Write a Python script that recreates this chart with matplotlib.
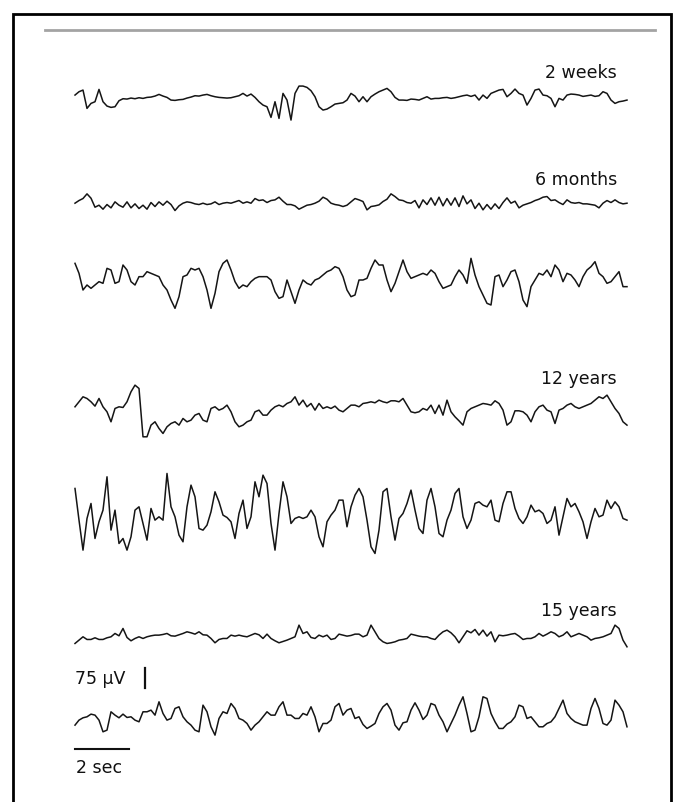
import matplotlib.pyplot as plt
import numpy as np
from matplotlib.lines import Line2D
from matplotlib.patches import Rectangle

# EEG traces, one sample every 4/27 s.
# amplitudes in digitiser units, 1 unit = 1.25 uV
SAMPLE_STEP_S = 4 / 27
UV_PER_UNIT = 1.25

age_labels = ["2 weeks", "6 months", "12 years", "15 years"]
labelled_traces = [0, 1, 3, 5]

trace_2wk = [10, 20, 25, -30, -15, -10, 27, -10, -23, -27,
             -25, -7, -1, -2, 1, -1, 2, 0, 3, 4,
             7, 12, 7, 3, -5, -6, -4, -3, 1, 4,
             8, 7, 10, 12, 8, 5, 3, 2, 1, 2,
             5, 8, 15, 7, 13, 3, -10, -20, -25, -57,
             -10, -60, 15, -5, -65, 15, 37, 37, 33, 23,
             5, -25, -35, -32, -25, -17, -15, -13, -5, 15,
             7, -10,
             5, -10, 5, 13, 20, 25, 30, 20, 3, -5,
             -5, -6, -2, -3, -5, 0, 5, -2, 0, 0,
             2, 3, 0, 2, 5, 8, 10, 6, 10, -5,
             10, 0, 15, 20, 25, 27, 5, 15, 28, 15,
             10, -20, 0, 25, 28, 10, 8, 0, -25, 0,
             -5, 10, 13, 12, 10, 6, 8, 10, 6, 8,
             20, 15, -5, -15, -10, -8, -5]

trace_6mo_a = [0, 8, 14, 28, 15, -12, -6, -18, -4, -14,
               4, -6, -12, 4, -14, -2, -16, -6, -18, 2,
               -10, 4, -6, 6, -4, -22, -8, 0, 4, 2,
               -2, -4, 0, -4, -2, 4, -4, 0, 2, 0,
               4, 8, 0, 4, 0, 14, 8, 10, 2, 8,
               10, 18, 6, -4, -4, -8, -18, -12, -6, -4,
               0, 6, 18, 12, 0, -4, -6, -10, -6, 4,
               14, 10,
               5, -20, -10, -8, -5, 5, 12, 28, 20, 10,
               8, 2, 0, 8, -14, 10, -4, 16, -6, 18,
               -8, 14, -6, 16, -10, 22, -2, 10, -16, 0,
               -20, -4, -18, -2, -16, 2, 16, 0, 6, -14,
               -6, -2, 2, 8, 12, 18, 20, 8, 10, 2,
               -4, 10, 2, 0, 2, -2, -2, -4, -6, -14,
               0, 8, 2, 10, 2, -2, 0]

trace_6mo_b = [50, 20, -30, -15, -25, -15, -5, -10, 35, 30,
               -10, -5, 45, 30, -5, -15, 10, 10, 25, 20,
               15, 10, -15, -30, -60, -85, -50, 10, 15, 35,
               30, 35, 10, -30, -85, -40, 25, 50, 60, 30,
               -5, -25, -15, -20, -5, 5, 10, 10, 10, 0,
               -35, -55, -50, 0, -35, -70, -30, 0, -10, -15,
               0, 5, 15, 25, 30, 40, 35, 10, -30, -50,
               -45, 0,
               0, 5, 35, 60, 45, 45, 0, -35, -10, 25,
               60, 25, 5, 10, 15, 20, 15, 30, 20, -5,
               -25, -20, -15, 10, 30, 15, -10, 65, 15, -20,
               -45, -70, -75, 10, 15, -20, 0, 25, 30, -5,
               -60, -80, -20, 0, 20, 15, 30, 10, 45, 30,
               -5, 20, 15, 0, -20, 10, 30, 40, 55, 20,
               10, -10, -5, 10, 25, -20, -20]

trace_12yr_a = [10, 25, 40, 35, 25, 12, 35, 10, -5, -35,
                5, 10, 8, 25, 55, 75, 65, -80, -80, -45,
                -35, -55, -70, -50, -40, -35, -45, -25, -35, -30,
                -15, -10, -30, -35, 5, 10, 0, 5, 15, -5,
                -35, -50, -45, -35, -30, -5, 0, -15, -15, 0,
                10, 15, 10, 20, 25, 40, 15, 30, 10, 20,
                0, 20, 5, 10, 5, 12, 0, -5, 5, 15,
                15, 10,
                20, 22, 25, 22, 30, 25, 22, 28, 28, 25,
                35, 15, -5, -8, -5, 5, 0, 15, -10, 15,
                -15, 30, -5, -20, -32, -45, -5, 5, 10, 15,
                20, 18, 15, 28, 20, 0, -45, -35, -2, -2,
                -5, -15, -35, -5, 10, 15, 0, -5, -40, 0,
                5, 15, 20, 10, 5, 10, 15, 20, 30, 40,
                35, 45, 25, 5, -10, -35, -45]

trace_12yr_b = [65, -30, -120, -25, 20, -85, -35, 0, 100, -60,
                0, -100, -85, -120, -80, 0, 10, -40, -90, 5,
                -30, -20, -30, 110, 10, -20, -75, -95, 10, 75,
                40, -55, -60, -45, -5, 55, 25, -15, -22, -35,
                -85, -10, 30, -55, -20, 85, 40, 105, 80, -40,
                -120, -10, 85, 40, -40, -25, -20, -25, -20, 0,
                -20, -80, -110, -35, -15, 0, 30, 30, -50, 10,
                45, 65,
                40, -30, -110, -130, -60, 55, 65, -20, -90, -25,
                -10, 20, 60, 0, -55, -70, 30, 65, 10, -70,
                -80, -30, 0, 50, 65, -20, -55, -30, 20, 25,
                15, 10, 30, -30, -35, 20, 55, 55, 5, -25,
                -40, -20, 15, -5, 0, -10, -40, -30, 10, -75,
                -20, 35, 10, 20, -5, -35, -85, -35, 5, -20,
                -15, 30, 5, 25, 10, -25, -30]

trace_15yr_a = [-20, -10, 0, -8, -8, -3, -8, -8, -3, 0,
                10, 3, 25, -2, -12, -5, 0, -5, 0, 3,
                5, 5, 7, 10, 3, 2, 6, 10, 15, 12,
                8, 15, 6, 5, -5, -18, -8, -5, -5, 5,
                2, 5, 2, 0, 5, 10, 6, -5, 8, -5,
                -12, -18, -14, -10, -5, 0, 35, 10, 15, -2,
                -5, 5, 0, 5, -8, -5, 8, 5, 2, 4,
                8, 8,
                0, 5, 35, 15, -5, -15, -20, -18, -15, -10,
                -8, -5, 8, 5, 2, 0, 0, -5, -8, 5,
                15, 20, 12, 0, -18, 0, 18, 12, 22, 5,
                20, 2, 15, -15, 5, 3, 5, 8, 10, 2,
                -8, -5, -5, 0, 10, 2, 8, 15, 10, 0,
                5, 15, 0, 5, 10, 5, 0, -10, -5, -3,
                0, 5, 10, 35, 25, -10, -30]

trace_15yr_b = [-25, -10, -3, 0, 8, 5, -10, -45, -40, 15,
                5, -3, 8, -2, 0, -10, -15, 15, 15, 20,
                5, 45, 10, -10, -5, 25, 30, 0, -15, -25,
                -40, -45, 35, 15, -30, -55, -5, 15, 10, 40,
                25, -5, -10, -20, -40, -25, -15, 0, 15, 5,
                5, 30, 45, 5, 5, -5, -5, 10, 5, 30,
                0, -45, -20, -20, -10, 30, 40, 5, 20, 25,
                -5, 0,
                -23, -35, -28, -20, 10, 30, 40, 20, -25, -40,
                -18, -15, 20, 42, 20, -8, 5, 40, 35, 5,
                -15, -45, -20, 5, 35, 60, 10, -45, -40, 0,
                60, 55, 10, -15, -35, -35, -22, -15, 0, 35,
                30, -5, 0, -15, -30, -30, -20, -15, 0, 25,
                50, 10, -5, -15, -20, -25, -25, 25, 55, 25,
                -20, -25, -10, 50, 35, 15, -30]

traces = [trace_2wk, trace_6mo_a, trace_6mo_b, trace_12yr_a,
          trace_12yr_b, trace_15yr_a, trace_15yr_b]

# layout: 27 px per second, 3.75 uV per px, trace baselines in uV from top
PX_PER_S = 27
UV_PER_PX = 3.75
W, H = 684, 802
x0_px = 75
offsets = [-369, -762, -1050, -1538, -1913, -2388, -2688]
label_y = [-292, -694, -1440, -2310]
label_t = 20.07

fig = plt.figure(figsize=(W / 100, H / 100), dpi=100)
ax = fig.add_axes([0, 0, 1, 1])
ax.set_xlim(-x0_px / PX_PER_S, (W - x0_px) / PX_PER_S)
ax.set_ylim(-H * UV_PER_PX, 0)
ax.axis("off")

for tr, off in zip(traces, offsets):
    assert len(tr) == 139, len(tr)
    v = np.array(tr) * UV_PER_UNIT
    t = np.arange(len(v)) * SAMPLE_STEP_S
    ax.plot(t, v + off, color="#151515", lw=1.1, solid_joinstyle="round")

font = dict(family="DejaVu Sans", size=12.5, color="#111111")
for lab, y in zip(age_labels, label_y):
    ax.text(label_t, y, lab, ha="right", va="baseline", **font)

# scale bars
ax.text(0, -2566, "75 \u03bcV", ha="left", va="baseline", **font)
ax.plot([2.59, 2.59], [-2505, -2580], color="#111111", lw=1.6)
ax.plot([0, 2], [-2809, -2809], color="#111111", lw=1.5)
ax.text(0.02, -2899, "2 sec", ha="left", va="baseline", **font)

# frame and the gray rule at the top
fig.add_artist(Rectangle((13 / W, -0.05), (671 - 13) / W, 1.05 - 14 / H,
                         transform=fig.transFigure, fill=False,
                         ec="black", lw=2.0))
fig.add_artist(Line2D([45 / W, 655 / W], [1 - 30 / H] * 2,
                      transform=fig.transFigure, color="#a3a3a3", lw=2))

fig.savefig("out.png", dpi=100)
